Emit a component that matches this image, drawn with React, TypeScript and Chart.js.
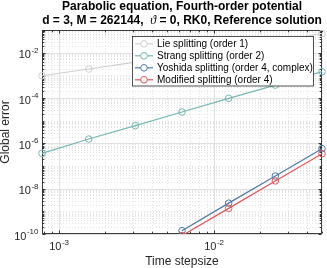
import React, { useEffect, useRef } from 'react';
import { Chart, registerables } from 'chart.js';

Chart.register(...registerables);

// ---------- data ----------
const stepSizes = [0.00078125, 0.0015625, 0.003125, 0.00625, 0.0125, 0.025, 0.05];
const lieErrors = [9.6e-4, 1.9e-3, 3.8e-3, 7.6e-3, 1.5e-2, 3.1e-2, 7.0e-2];
const strangErrors = [3.6e-7, 1.55e-6, 6.0e-6, 2.4e-5, 9.7e-5, 3.7e-4, 1.45e-3];
const yoshidaErrors = [null, null, null, 1.4e-10, 2.3e-9, 3.6e-8, 5.8e-7];
const modifiedErrors = [null, null, null, 8.5e-11, 1.35e-9, 2.2e-8, 3.5e-7];

const seriesLabels = [
  'Lie splitting (order 1)',
  'Strang splitting (order 2)',
  'Yoshida splitting (order 4, complex)',
  'Modified splitting (order 4)',
];
const seriesValues = [lieErrors, strangErrors, yoshidaErrors, modifiedErrors];
const seriesColors = ['#cfcfcf', '#76b7b2', '#4e79a7', '#e15759'];

const titleLine1 = 'Parabolic equation, Fourth-order potential';
const titleLine2Before = 'd = 3, M = 262144,  ';
const titleLine2Symbol = 'ϑ';
const titleLine2After = ' = 0, RK0, Reference solution';
const xAxisLabel = 'Time stepsize';
const yAxisLabel = 'Global error';

const xRange = [0.00078125, 0.05];
const yRange = [1e-10, 1e-1];
const xLabelExponents = [-3, -2];
const yLabelExponents = [-10, -8, -6, -4, -2];

// ---------- styling ----------
const FONT = '"Liberation Sans", Arial, Helvetica, sans-serif';
const AXIS_COLOR = '#262626';

function logTicks(min: number, max: number, labelExps: number[]) {
  const out: { v: number; major: boolean }[] = [];
  const k0 = Math.floor(Math.log10(min)) - 1;
  const k1 = Math.ceil(Math.log10(max)) + 1;
  for (let k = k0; k <= k1; k++) {
    for (let m = 1; m <= 9; m++) {
      const v = m * Math.pow(10, k);
      if (v < min * 0.999 || v > max * 1.001) continue;
      out.push({ v, major: m === 1 && labelExps.includes(k) });
    }
  }
  return out;
}

function drawPow(ctx: CanvasRenderingContext2D, exp: number, x: number, baseY: number, align: 'center' | 'right') {
  const baseFont = `11px ${FONT}`;
  const expFont = `8px ${FONT}`;
  const expStr = '-' + String(Math.abs(exp));
  ctx.font = baseFont;
  const w1 = ctx.measureText('10').width;
  ctx.font = expFont;
  const w2 = ctx.measureText(expStr).width;
  const total = w1 + w2 + 0.5;
  const start = align === 'center' ? x - total / 2 : x - total;
  ctx.textAlign = 'left';
  ctx.textBaseline = 'alphabetic';
  ctx.fillStyle = AXIS_COLOR;
  ctx.font = baseFont;
  ctx.fillText('10', start, baseY);
  ctx.font = expFont;
  ctx.fillText(expStr, start + w1 + 0.5, baseY - 5.5);
}

const matlabPlugin = {
  id: 'matlabAxes',
  beforeDatasetsDraw(chart: any) {
    const ctx: CanvasRenderingContext2D = chart.ctx;
    const { left, right, top, bottom } = chart.chartArea;
    const xs = chart.scales.x;
    const ys = chart.scales.y;
    const xt = logTicks(xRange[0], xRange[1], xLabelExponents);
    const yt = logTicks(yRange[0], yRange[1], yLabelExponents);
    ctx.save();
    ctx.fillStyle = '#ffffff';
    ctx.fillRect(left, top, right - left, bottom - top);
    // minor grid
    ctx.lineWidth = 1;
    ctx.strokeStyle = '#e3e3e3';
    ctx.setLineDash([1, 2]);
    ctx.beginPath();
    xt.filter(t => !t.major).forEach(t => {
      const px = Math.round(xs.getPixelForValue(t.v)) + 0.5;
      ctx.moveTo(px, top);
      ctx.lineTo(px, bottom);
    });
    yt.filter(t => !t.major).forEach(t => {
      const py = Math.round(ys.getPixelForValue(t.v)) + 0.5;
      ctx.moveTo(left, py);
      ctx.lineTo(right, py);
    });
    ctx.stroke();
    // major grid
    ctx.setLineDash([]);
    ctx.strokeStyle = '#e0e0e0';
    ctx.beginPath();
    xt.filter(t => t.major).forEach(t => {
      const px = Math.round(xs.getPixelForValue(t.v)) + 0.5;
      ctx.moveTo(px, top);
      ctx.lineTo(px, bottom);
    });
    yt.filter(t => t.major).forEach(t => {
      const py = Math.round(ys.getPixelForValue(t.v)) + 0.5;
      ctx.moveTo(left, py);
      ctx.lineTo(right, py);
    });
    ctx.stroke();
    // frame
    const L = left + 0.5, R = right - 0.5, T = top + 0.5, B = bottom - 0.5;
    ctx.strokeStyle = AXIS_COLOR;
    ctx.lineWidth = 0.9;
    ctx.strokeRect(L, T, R - L, B - T);
    // tick marks (inward, all sides)
    ctx.beginPath();
    xt.forEach(t => {
      const len = t.major ? 3 : 1.8;
      const px = Math.round(xs.getPixelForValue(t.v)) + 0.5;
      ctx.moveTo(px, B);
      ctx.lineTo(px, B - len);
      ctx.moveTo(px, T);
      ctx.lineTo(px, T + len);
    });
    yt.forEach(t => {
      const len = t.major ? 3 : 1.8;
      const py = Math.round(ys.getPixelForValue(t.v)) + 0.5;
      ctx.moveTo(L, py);
      ctx.lineTo(L + len, py);
      ctx.moveTo(R, py);
      ctx.lineTo(R - len, py);
    });
    ctx.stroke();
    ctx.restore();
  },
  afterDatasetsDraw(chart: any) {
    const ctx: CanvasRenderingContext2D = chart.ctx;
    const { left, right, top, bottom } = chart.chartArea;
    const xs = chart.scales.x;
    const ys = chart.scales.y;
    ctx.save();
    // legend
    const bx = 132.5, by = 36.5, bw = 181, bh = 49.5;
    ctx.fillStyle = '#ffffff';
    ctx.fillRect(bx, by, bw, bh);
    ctx.strokeStyle = AXIS_COLOR;
    ctx.lineWidth = 0.8;
    ctx.strokeRect(bx, by, bw, bh);
    chart.data.datasets.forEach((ds: any, i: number) => {
      const cy = 43.8 + i * 12;
      ctx.strokeStyle = ds.borderColor;
      ctx.lineWidth = 1.2;
      ctx.beginPath();
      ctx.moveTo(135, cy);
      ctx.lineTo(153, cy);
      ctx.stroke();
      ctx.lineWidth = 1;
      ctx.beginPath();
      ctx.arc(144, cy, 3.3, 0, Math.PI * 2);
      ctx.fillStyle = '#ffffff';
      ctx.fill();
      ctx.stroke();
      ctx.fillStyle = '#000000';
      ctx.font = `10px ${FONT}`;
      ctx.textAlign = 'left';
      ctx.textBaseline = 'middle';
      ctx.fillText(ds.label, 157, cy + 0.5);
    });
    // tick labels
    xLabelExponents.forEach(e => {
      const px = xs.getPixelForValue(Math.pow(10, e));
      drawPow(ctx, e, px + 0.5, 250, 'center');
    });
    yLabelExponents.forEach(e => {
      const py = ys.getPixelForValue(Math.pow(10, e));
      drawPow(ctx, e, 38.5, py + 5.5, 'right');
    });
    // axis titles
    ctx.fillStyle = AXIS_COLOR;
    ctx.font = `12px ${FONT}`;
    ctx.textAlign = 'center';
    ctx.textBaseline = 'alphabetic';
    ctx.fillText(xAxisLabel, (left + right) / 2, 265);
    ctx.save();
    ctx.translate(9, (top + bottom) / 2);
    ctx.rotate(-Math.PI / 2);
    ctx.fillText(yAxisLabel, 0, 0);
    ctx.restore();
    // title
    const cx = (left + right) / 2;
    ctx.fillStyle = '#000000';
    ctx.font = `bold 12px ${FONT}`;
    ctx.textAlign = 'center';
    ctx.fillText(titleLine1, cx, 9.6);
    const boldFont = `bold 12px ${FONT}`;
    const symFont = 'italic 12px "Liberation Serif", "DejaVu Serif", serif';
    ctx.font = boldFont;
    const w1 = ctx.measureText(titleLine2Before).width;
    const w3 = ctx.measureText(titleLine2After).width;
    ctx.font = symFont;
    const w2 = ctx.measureText(titleLine2Symbol).width;
    let sx = cx - (w1 + w2 + w3) / 2;
    ctx.textAlign = 'left';
    ctx.font = boldFont;
    ctx.fillText(titleLine2Before, sx, 23.7);
    sx += w1;
    ctx.font = symFont;
    ctx.fillText(titleLine2Symbol, sx, 23.7);
    sx += w2;
    ctx.font = boldFont;
    ctx.fillText(titleLine2After, sx, 23.7);
    ctx.restore();
  },
};

export default function App() {
  const ref = useRef<HTMLCanvasElement>(null);
  useEffect(() => {
    document.body.style.margin = '0';
    const datasets = seriesValues.map((vals, i) => ({
      label: seriesLabels[i],
      data: stepSizes.map((x, j) => ({ x, y: vals[j] })),
      borderColor: seriesColors[i],
      backgroundColor: 'rgba(255,255,255,0)',
      pointBackgroundColor: 'rgba(255,255,255,0)',
      pointBorderColor: seriesColors[i],
      pointRadius: 3.3,
      pointBorderWidth: 1,
      borderWidth: 1.2,
      tension: 0,
      spanGaps: false,
      order: seriesValues.length - 1 - i,
      clip: { left: 8, right: 8, top: 8, bottom: 0 },
    }));
    const chart = new Chart(ref.current as HTMLCanvasElement, {
      type: 'line',
      data: { datasets } as any,
      options: {
        responsive: false,
        animation: false,
        devicePixelRatio: 1,
        layout: { padding: { top: 30, right: 5, left: 0, bottom: 0 } },
        plugins: {
          legend: { display: false },
          title: { display: false },
          tooltip: { enabled: false },
        },
        events: [],
        scales: {
          x: {
            type: 'logarithmic',
            min: xRange[0],
            max: xRange[1],
            grid: { display: false },
            border: { display: false },
            ticks: { display: false },
            afterFit: (s: any) => { s.height = 34; },
          },
          y: {
            type: 'logarithmic',
            min: yRange[0],
            max: yRange[1],
            grid: { display: false },
            border: { display: false },
            ticks: { display: false },
            afterFit: (s: any) => { s.width = 42; },
          },
        },
      } as any,
      plugins: [matlabPlugin as any],
    });
    return () => chart.destroy();
  }, []);
  return (
    <div style={{ width: 327, height: 268 }}>
      <canvas ref={ref} width={327} height={268} style={{ display: 'block', width: 327, height: 268 }} />
    </div>
  );
}
